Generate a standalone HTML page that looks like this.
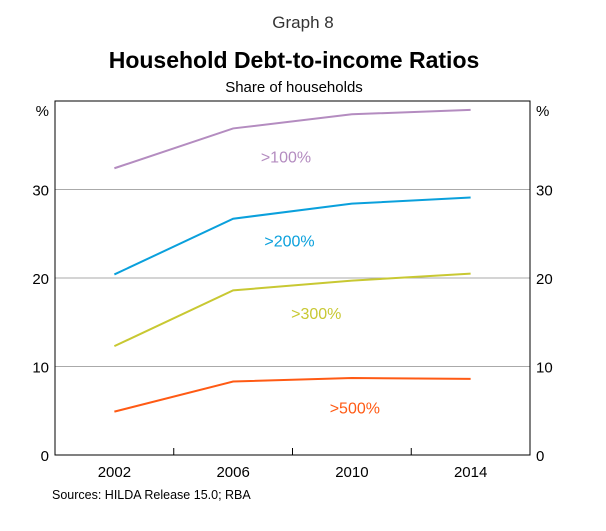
<!DOCTYPE html>
<html><head><meta charset="utf-8"><style>
body{margin:0;background:#fff;}
svg text{font-family:"Liberation Sans",Arial,sans-serif;}
</style></head><body>
<svg width="606" height="526" viewBox="0 0 606 526" xmlns="http://www.w3.org/2000/svg">
<text x="303" y="28" font-size="17" fill="#333" text-anchor="middle">Graph 8</text>
<text x="294" y="68" font-size="23" font-weight="bold" fill="#000" text-anchor="middle">Household Debt-to-income Ratios</text>
<text x="294" y="92" font-size="15" fill="#000" text-anchor="middle">Share of households</text>
<g id="grid"></g>
<g id="series"></g>
<rect x="55" y="101" width="475" height="354" fill="none" stroke="#000" stroke-width="1"/>
<g id="axes"></g>
<text x="52" y="499" font-size="12.5" fill="#000">Sources:   HILDA Release 15.0; RBA</text>
</svg>
<script>
const years=[2002,2006,2010,2014];
const s100=[32.4,36.9,38.5,39.0];
const s200=[20.4,26.7,28.4,29.1];
const s300=[12.3,18.6,19.7,20.5];
const s500=[4.9,8.3,8.7,8.6];
const yTicks=[0,10,20,30];
const xLabels=[2002,2006,2010,2014];
const xMinor=[2004,2008,2012];
const NS='http://www.w3.org/2000/svg';
const L=55,R=530,T=101,B=455,X0=2000,X1=2016,Y0=0,Y1=40;
function xs(v){return L+(v-X0)/(X1-X0)*(R-L);}
function ys(v){return B-(v-Y0)/(Y1-Y0)*(B-T);}
function mk(tag,attrs,parent){const e=document.createElementNS(NS,tag);for(const k in attrs)e.setAttribute(k,attrs[k]);parent.appendChild(e);return e;}
const grid=document.getElementById('grid'),axes=document.getElementById('axes'),ser=document.getElementById('series');
yTicks.forEach(t=>{
  if(t>0){const g=mk('line',{x1:L,x2:R,y1:ys(t),y2:ys(t),stroke:'#aaa','stroke-width':1},grid);
  
  }
  const a=mk('text',{x:L-6,y:ys(t)+6,'font-size':15,'text-anchor':'end'},axes);a.textContent=t;
  
  
  const b=mk('text',{x:R+6,y:ys(t)+6,'font-size':15},axes);b.textContent=t;
  
  
});
const p1=mk('text',{x:L-6,y:ys(38.3),'font-size':15,'text-anchor':'end'},axes);p1.textContent='%';


const p2=mk('text',{x:R+6,y:ys(38.3),'font-size':15},axes);p2.textContent='%';


xLabels.forEach(y=>{const t=mk('text',{x:xs(y),y:B+22,'font-size':15,'text-anchor':'middle'},axes);t.textContent=y;
  
  });
xMinor.forEach(y=>{const t=mk('line',{x1:xs(y),x2:xs(y),y1:B,y2:B-7,stroke:'#000'},axes);
  
  });
const series=[[s100,'#b48cc0','>100%',2007.78,33.7,'100'],[s200,'#0aa0dc','>200%',2007.9,24.2,'200'],[s300,'#c8c832','>300%',2008.8,16.0,'300'],[s500,'#ff5a14','>500%',2010.1,5.3,'500']];
series.forEach(s=>{
  const pts=years.map((y,i)=>xs(y)+','+ys(s[0][i])).join(' ');
  const l=mk('polyline',{points:pts,fill:'none',stroke:s[1],'stroke-width':2},ser);
  
  
  const t=mk('text',{x:xs(s[3]),y:ys(s[4])+5.5,'font-size':16,fill:s[1],'text-anchor':'middle'},ser);t.textContent=s[2];
  
  
});
</script>
</body></html>
